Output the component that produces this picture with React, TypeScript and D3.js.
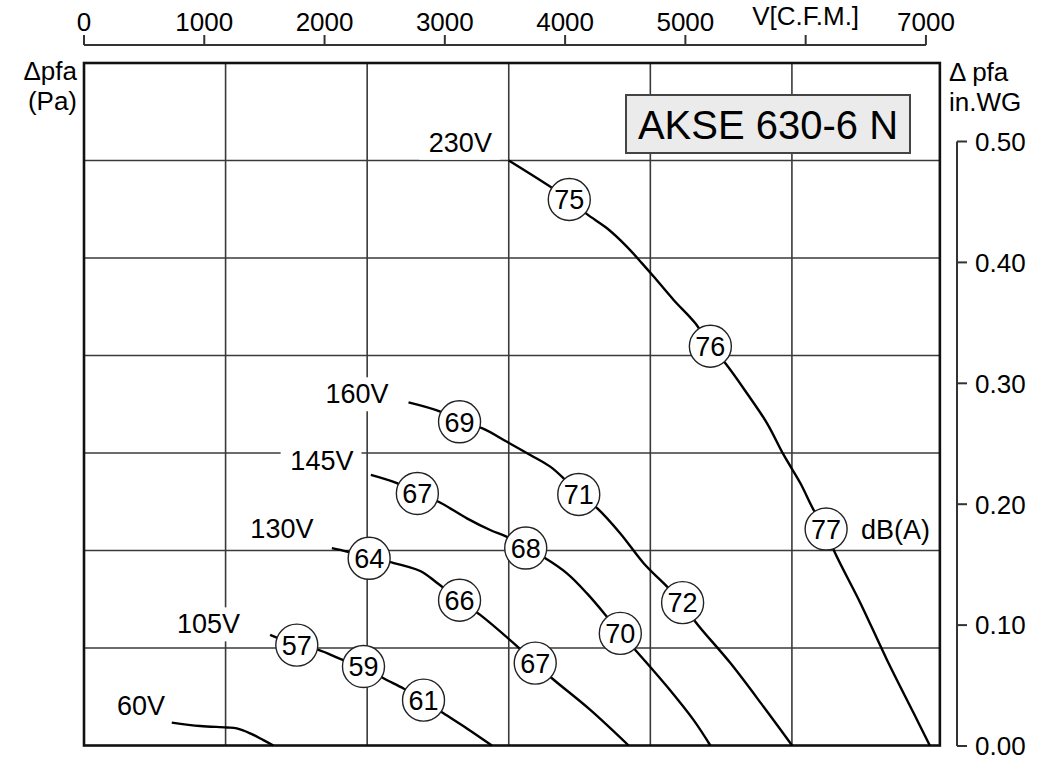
import React from "react";
import * as d3 from "d3";

// ---------- data ----------
// flow in m³/h, pressure in Pa
const flowGridValues = [2000, 4000, 6000, 8000, 10000];
const paGridValues = [20, 40, 60, 80, 100, 120];
const cfmTicks = [0, 1000, 2000, 3000, 4000, 5000, 6000, 7000];
const cfmTickLabels = ["0", "1000", "2000", "3000", "4000", "5000", "V[C.F.M.]", "7000"];
const inwgTicks = [0, 0.1, 0.2, 0.3, 0.4, 0.5];
const inwgTickLabels = ["0.00", "0.10", "0.20", "0.30", "0.40", "0.50"];

const seriesNames = ["230V", "160V", "145V", "130V", "105V", "60V"];

const curve230: [number, number][] = [
  [6000, 120], [6855, 112.0], [7105, 109.0], [7388, 106.1], [7671, 102.3], [7883, 98.9],
  [8047, 96.2], [8329, 91.4], [8636, 86.6], [8848, 81.9], [9060, 78.4], [9367, 72.2],
  [9649, 66.1], [9884, 59.6], [10120, 53.8], [10308, 48.3], [10483, 44.4], [10591, 40.1],
  [10968, 29.2], [11345, 17.5], [11721, 6.6], [11948, 0],
];
const curve160: [number, number][] = [
  [4584, 70.4], [5032, 68.5], [5305, 66.4], [5621, 65.1], [5975, 62.3], [6304, 59.6],
  [6586, 57.2], [6775, 54.8], [6989, 51.5], [7247, 48.7], [7576, 43.5], [7905, 37.4],
  [8236, 32.6], [8456, 29.3], [8636, 25.4], [9131, 16.9], [9597, 8.0], [10003, 0],
];
const curve145: [number, number][] = [
  [4052, 55.5], [4420, 53.8], [4709, 51.7], [5008, 50.0], [5409, 46.6], [5738, 44.2],
  [5975, 42.8], [6240, 40.5], [6516, 38.4], [6822, 35.3], [7105, 31.2], [7388, 26.4],
  [7576, 23.0], [7788, 19.6], [8236, 12.1], [8612, 5.2], [8848, 0],
];
const curve130: [number, number][] = [
  [3501, 40.5], [3713, 39.8], [4028, 38.4], [4325, 37.6], [4749, 35.8], [4975, 33.5],
  [5305, 29.8], [5597, 26.8], [6068, 21.0], [6374, 16.9], [6610, 13.8], [7152, 7.3], [7693, 0],
];
const curve105: [number, number][] = [
  [2629, 22.7], [3006, 20.6], [3312, 19.6], [3665, 17.5], [3948, 16.2], [4230, 13.8],
  [4513, 11.7], [4796, 9.3], [5078, 6.6], [5409, 3.5], [5762, 0],
];
const curve60: [number, number][] = [
  [1240, 4.7], [1640, 4.0], [2017, 3.7], [2158, 3.5], [2346, 2.5], [2534, 1.1], [2676, 0],
];
const curves = [curve230, curve160, curve145, curve130, curve105, curve60];

// sound level markers: [flow, Pa, dB(A)]
const markers230: [number, number, number][] = [[6855, 112.0, 75], [8848, 81.9, 76], [10483, 44.4, 77]];
const markers160: [number, number, number][] = [[5305, 66.4, 69], [6989, 51.5, 71], [8456, 29.3, 72]];
const markers145: [number, number, number][] = [[4709, 51.7, 67], [6240, 40.5, 68], [7576, 23.0, 70]];
const markers130: [number, number, number][] = [[4028, 38.4, 64], [5305, 29.8, 66], [6374, 16.9, 67]];
const markers105: [number, number, number][] = [[3006, 20.6, 57], [3948, 16.2, 59], [4796, 9.3, 61]];
const markers = [markers230, markers160, markers145, markers130, markers105, []];

// curve label anchors (text end, baseline) in data units
const labelFlow = [5762, 4301, 3806, 3241, 2205, 1145];
const labelPa = [121.8, 70.2, 56.5, 42.5, 23.0, 6.3];

const title = "AKSE 630-6 N";

// ---------- layout ----------
const W = 1052;
const H = 763;
const FONT = "'Liberation Sans', Arial, Helvetica, sans-serif";
const FRAME_FLOW_MAX = 12090;
const PA_MAX = 140;
const CFM_TO_M3H = 1.69901;

export default function App() {
  const x = d3.scaleLinear().domain([0, 12000]).range([84, 933.5]);
  const y = d3.scaleLinear().domain([0, PA_MAX]).range([745.5, 63]);
  const xCfm = (v: number) => x(v * CFM_TO_M3H);
  const yIn = d3.scaleLinear().domain([0, 0.5]).range([746, 141.5]);

  const line = d3
    .line<[number, number]>()
    .x((d) => x(d[0]))
    .y((d) => y(d[1]))
    .curve(d3.curveCatmullRom.alpha(0.5));

  const fx0 = x(0);
  const fx1 = x(FRAME_FLOW_MAX);
  const fy0 = y(0);
  const fy1 = y(PA_MAX);

  const topAxisY = 45;
  const rightAxisX = 957;

  const labelFont = 27;
  const textW = (s: string) => s.length * 0.6 * labelFont;
  const ink = "#000";

  return (
    <svg
      width={W}
      height={H}
      style={{ position: "absolute", left: 0, top: 0, background: "#fff" }}
      fontFamily={FONT}
    >
      <rect x={0} y={0} width={W} height={H} fill="#fff" />

      {/* grid */}
      {flowGridValues.map((v) => (
        <line key={"gx" + v} x1={x(v)} x2={x(v)} y1={fy1} y2={fy0} stroke="#3a3a3a" strokeWidth={1.6} />
      ))}
      {paGridValues.map((v) => (
        <line key={"gy" + v} x1={fx0} x2={fx1} y1={y(v)} y2={y(v)} stroke="#3a3a3a" strokeWidth={1.6} />
      ))}

      {/* curve label knockouts */}
      {seriesNames.map((s, i) => {
        const w = textW(s) + 16;
        return (
          <rect
            key={"ko" + s}
            x={x(labelFlow[i]) - w + 8}
            y={y(labelPa[i]) - 26}
            width={w}
            height={34}
            fill="#fff"
          />
        );
      })}

      {/* frame */}
      <rect x={fx0} y={fy1} width={fx1 - fx0} height={fy0 - fy1} fill="none" stroke="#111" strokeWidth={2.6} />

      {/* curves */}
      {curves.map((c, i) => (
        <path key={"c" + i} d={line(c) || ""} fill="none" stroke="#000" strokeWidth={2.4} />
      ))}

      {/* curve labels */}
      {seriesNames.map((s, i) => (
        <text
          key={"lbl" + s}
          x={x(labelFlow[i])}
          y={y(labelPa[i])}
          textAnchor="end"
          fontSize={labelFont}
          fill={ink}
        >
          {s}
        </text>
      ))}

      {/* dB markers */}
      {markers.map((ms, i) =>
        ms.map((m, j) => (
          <g key={"m" + i + "_" + j} transform={`translate(${x(m[0])},${y(m[1])})`}>
            <circle r={21} fill="#fff" stroke="#222" strokeWidth={1.4} />
            <text textAnchor="middle" dy="0.36em" fontSize={labelFont} fill={ink}>
              {m[2]}
            </text>
          </g>
        ))
      )}
      <text
        x={x(markers230[2][0]) + 35}
        y={y(markers230[2][1])}
        dy="0.36em"
        fontSize={labelFont}
        fill={ink}
      >
        dB(A)
      </text>

      {/* title box */}
      <rect x={626} y={95} width={284} height={58} fill="#ebebeb" stroke="#444" strokeWidth={2} />
      <text x={768} y={139} textAnchor="middle" fontSize={40} fill={ink}>
        {title}
      </text>

      {/* top axis (CFM) */}
      <line x1={xCfm(0)} x2={xCfm(7000)} y1={topAxisY} y2={topAxisY} stroke="#333" strokeWidth={2} />
      {cfmTicks.map((v, i) => (
        <g key={"tc" + v}>
          <line x1={xCfm(v)} x2={xCfm(v)} y1={topAxisY - 10} y2={topAxisY} stroke="#333" strokeWidth={2} />
          <text
            x={xCfm(v)}
            y={cfmTickLabels[i].startsWith("V") ? 25 : 31}
            textAnchor="middle"
            fontSize={26}
            fill={ink}
          >
            {cfmTickLabels[i]}
          </text>
        </g>
      ))}

      {/* right axis (in.WG) */}
      <line x1={rightAxisX} x2={rightAxisX} y1={yIn(0.5)} y2={yIn(0)} stroke="#333" strokeWidth={2} />
      {inwgTicks.map((v, i) => (
        <g key={"ti" + v}>
          <line x1={rightAxisX} x2={rightAxisX + 10} y1={yIn(v)} y2={yIn(v)} stroke="#333" strokeWidth={2} />
          <text x={rightAxisX + 18} y={yIn(v)} dy="0.36em" fontSize={26} fill={ink}>
            {inwgTickLabels[i]}
          </text>
        </g>
      ))}

      {/* axis titles */}
      <text x={77} y={80} textAnchor="end" fontSize={26} fill={ink}>
        Δpfa
      </text>
      <text x={77} y={110} textAnchor="end" fontSize={26} fill={ink}>
        (Pa)
      </text>
      <text x={949} y={81} fontSize={26} fill={ink}>
        Δ pfa
      </text>
      <text x={949} y={111} fontSize={26} fill={ink}>
        in.WG
      </text>
    </svg>
  );
}
